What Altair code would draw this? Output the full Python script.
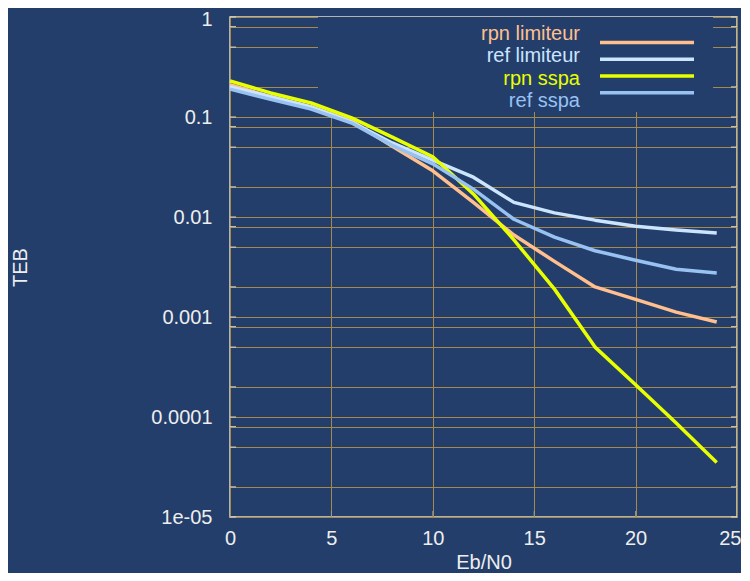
import altair as alt
import pandas as pd

# ---- data ----
eb_n0 = [0, 2, 4, 6, 8, 10, 12, 14, 16, 18, 20, 22, 24]
rpn_limiteur = [0.21, 0.16, 0.126, 0.091, 0.051, 0.029, 0.014, 0.0066, 0.0036, 0.0020, 0.0015, 0.00112, 0.00089]
ref_limiteur = [0.20, 0.16, 0.126, 0.089, 0.055, 0.037, 0.025, 0.014, 0.011, 0.0093, 0.0081, 0.0074, 0.0069]
rpn_sspa = [0.23, 0.174, 0.138, 0.098, 0.063, 0.040, 0.017, 0.0059, 0.0019, 0.0005, 0.00021, 0.000087, 0.000035]
ref_sspa = [0.19, 0.15, 0.12, 0.087, 0.052, 0.034, 0.019, 0.0095, 0.0063, 0.0046, 0.0037, 0.0030, 0.00275]

series_names = ["rpn limiteur", "ref limiteur", "rpn sspa", "ref sspa"]
series_colors = ["#ffc08e", "#cbe5ff", "#e8ff00", "#98c2f2"]

x_ticks = [0, 5, 10, 15, 20, 25]
y_decades = [1, 0.1, 0.01, 0.001, 0.0001, 1e-05]
y_labels = ["1", "0.1", "0.01", "0.001", "0.0001", "1e-05"]
y_grid = [1, 0.8, 0.5, 0.2, 0.1, 0.08, 0.05, 0.02, 0.01, 0.008, 0.005, 0.002,
          0.001, 0.0008, 0.0005, 0.0002, 0.0001, 8e-05, 5e-05, 2e-05, 1e-05]

BG = "#233e6b"
GRID = "#a68a4c"
FRAME = "#dedacb"
TXT = "#eeeeee"
FONT = "Liberation Sans"
FS = 20

rows = []
for name, vals in zip(series_names, [rpn_limiteur, ref_limiteur, rpn_sspa, ref_sspa]):
    for x, v in zip(eb_n0, vals):
        rows.append({"series": name, "eb": x, "teb": v})
df = pd.DataFrame(rows)

label_expr = "".join(
    f"abs(datum.value - {v}) < {v * 0.01} ? '{lab}' : " for v, lab in zip(y_decades, y_labels)
) + "''"

xscale = alt.Scale(domain=[0, 25], nice=False, zero=False)
yscale = alt.Scale(type="log", domain=[1e-05, 1], nice=False)

last_x = x_ticks[-1]
top_y = y_decades[0]
x_axis = alt.Axis(title="Eb/N0", values=x_ticks, grid=True, gridColor=GRID, gridWidth=1,
                  ticks=False, domain=False, labelPadding=11, labelFlush=False,
                  labelAlign=alt.ExprRef(expr=f"datum.value == {last_x} ? 'right' : 'center'"),
                  labelOffset=alt.ExprRef(expr=f"datum.value == {last_x} ? 4 : 0"),
                  labelColor=TXT, labelFont=FONT, labelFontSize=FS,
                  titleColor=TXT, titleFont=FONT, titleFontSize=FS, titleFontWeight="normal",
                  titleY=45, titleBaseline="middle")
y_axis = alt.Axis(title="TEB", values=y_grid, labelExpr=label_expr, grid=True, gridColor=GRID,
                  gridWidth=1, ticks=False, domain=False, labelPadding=18,
                  labelOffset=alt.ExprRef(expr=f"datum.value == {top_y} ? 2 : 0"),
                  labelColor=TXT, labelFont=FONT, labelFontSize=FS, labelFlush=False,
                  titleColor=TXT, titleFont=FONT, titleFontSize=FS, titleFontWeight="normal",
                  titleAngle=-90, titleX=-210, titleY=250, titleBaseline="middle", titleAlign="center")

color = alt.Color("series:N", scale=alt.Scale(domain=series_names, range=series_colors), legend=None)

# opaque legend box (hides grid behind the key)
box = alt.Chart(pd.DataFrame({"a": [0]})).mark_rect(fill=BG, stroke=None).encode(
    x=alt.value(88), x2=alt.value(483), y=alt.value(0), y2=alt.value(95)
)

tick_df = pd.DataFrame({"teb": y_grid})
left_ticks = alt.Chart(tick_df).mark_rule(color=FRAME, strokeWidth=1).encode(
    y=alt.Y("teb:Q", scale=yscale, axis=y_axis), x=alt.value(0), x2=alt.value(6)
)
right_ticks = alt.Chart(tick_df).mark_rule(color=FRAME, strokeWidth=1).encode(
    y=alt.Y("teb:Q", scale=yscale, axis=y_axis), x=alt.value(501), x2=alt.value(507)
)
xt_df = pd.DataFrame({"eb": x_ticks[1:-1]})
bottom_ticks = alt.Chart(xt_df).mark_rule(color="#9a9a90", strokeWidth=1).encode(
    x=alt.X("eb:Q", scale=xscale, axis=x_axis), y=alt.value(494), y2=alt.value(500)
)

lines = alt.Chart(df).mark_line(strokeWidth=3.5, strokeJoin="round").encode(
    x=alt.X("eb:Q", scale=xscale, axis=x_axis),
    y=alt.Y("teb:Q", scale=yscale, axis=y_axis),
    color=color,
    detail="series:N",
    order="eb:Q",
)

inner = alt.layer(box, left_ticks, right_ticks, bottom_ticks, lines)

leg_df = pd.DataFrame({"series": series_names})
leg_y = alt.Y("series:N", scale=alt.Scale(domain=series_names, range=[17, 84], padding=0), axis=None)
leg_text = alt.Chart(leg_df).mark_text(align="right", baseline="middle", font=FONT, fontSize=FS).encode(
    x=alt.value(350), y=leg_y, text="series:N", color=color
)
leg_line = alt.Chart(leg_df).mark_rule(strokeWidth=3.5).encode(
    x=alt.value(370), x2=alt.value(464), y=leg_y, color=color
)

chart = alt.layer(inner, leg_text, leg_line).resolve_scale(y="independent").properties(
    width=507, height=500,
    autosize=alt.AutoSizeParams(type="none"),
    padding={"left": 222, "top": 9, "right": 4, "bottom": 56},
    background=BG,
).configure_view(stroke=FRAME, strokeWidth=1.5, fill=BG)

chart.save("out.html", embed_options={"renderer": "svg", "actions": False})
